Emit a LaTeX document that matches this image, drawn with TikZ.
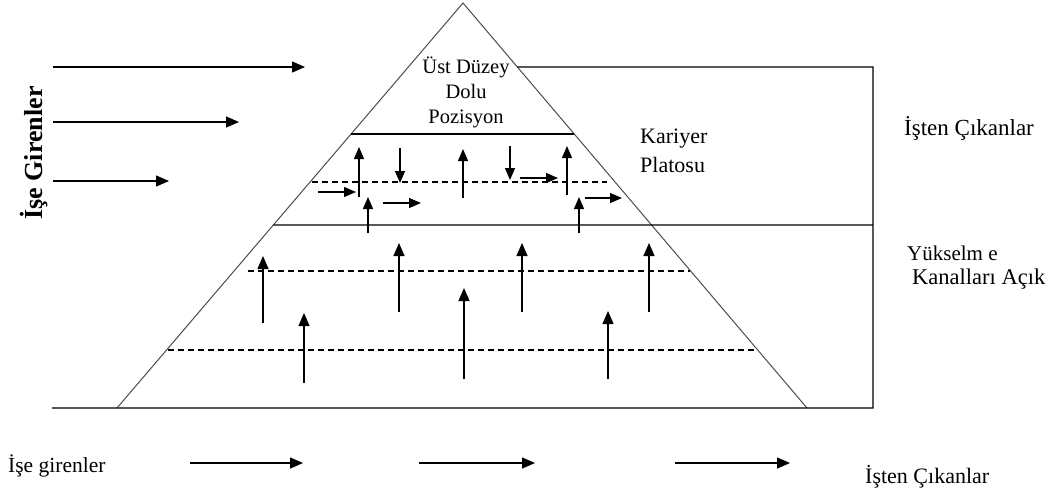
\documentclass[tikz,border=0pt]{standalone}
\usepackage{fontspec}
\setmainfont{Liberation Serif}
\usetikzlibrary{arrows.meta,calc}
\begin{document}
\begin{tikzpicture}[x=1pt,y=-1pt,
  edge/.style={draw=black!70,line width=1pt},
  solidline/.style={draw=black,line width=1.2pt},
  dashline/.style={draw=black,line width=1.2pt,dash pattern=on 6pt off 4pt},
  arr/.style={draw=black,line width=1.3pt,-{Triangle[length=13pt,width=11pt]}},
  sarr/.style={draw=black,line width=1.2pt,-{Triangle[length=12pt,width=10pt]}},
  lbl/.style={inner sep=0pt,font=\fontsize{21pt}{26pt}\selectfont},
]
\useasboundingbox (0,0) rectangle (1056,491);
% pyramid
\coordinate (apex) at (463,3);
\coordinate (bl) at (117,408);
\coordinate (br) at (807,408);
\coordinate (baseL) at (52,408);
\coordinate (baseR) at (873,408);
\coordinate (boxTR) at (873,67);
\coordinate (boxMR) at (873,225);
\coordinate (r67) at ($(apex)!0.158!(br)$);
\coordinate (l134) at ($(apex)!0.3235!(bl)$);
\coordinate (r134) at ($(apex)!0.3235!(br)$);
\coordinate (l225) at ($(apex)!0.548!(bl)$);
\draw[edge] (bl) -- (apex) -- (br);
\draw[solidline] (baseL) -- (baseR) -- (boxTR) -- (r67);
\draw[solidline] (l134) -- (r134);
\draw[solidline] (l225) -- (boxMR);
% dashed lines
\coordinate (d1a) at (312,182); \coordinate (d1b) at (607,182);
\coordinate (d2a) at (248,271); \coordinate (d2b) at (690,271);
\coordinate (d3a) at (168,350); \coordinate (d3b) at (755,350);
\draw[dashline] (d1a) -- (d1b);
\draw[dashline] (d2a) -- (d2b);
\draw[dashline] (d3a) -- (d3b);
% lower up arrows
\foreach \x/\a/\b [count=\i] in {263/323/256, 304/383/313, 399/312/243, 464/379/288, 522/312/243, 608/379/311, 649/312/243}{
  \coordinate (la\i) at (\x,\a); \coordinate (lb\i) at (\x,\b);
  \draw[arr] (la\i) -- (lb\i);
}
% plateau vertical arrows
\foreach \x/\a/\b [count=\i] in {359/197/147, 400/148/183, 463/198/149, 510/146/180, 567/195/146, 368/233/197, 579/233/197}{
  \coordinate (pa\i) at (\x,\a); \coordinate (pb\i) at (\x,\b);
  \draw[sarr] (pa\i) -- (pb\i);
}
% plateau horizontal arrows
\foreach \y/\a/\b [count=\i] in {192/318/356, 203/383/421, 178/520/558, 198/585/622}{
  \coordinate (ha\i) at (\a,\y); \coordinate (hb\i) at (\b,\y);
  \draw[sarr] (ha\i) -- (hb\i);
}
% left entry arrows
\foreach \y/\b [count=\i] in {67/305, 122/239, 181/169}{
  \coordinate (ea\i) at (53,\y); \coordinate (eb\i) at (\b,\y);
  \draw[arr] (ea\i) -- (eb\i);
}
% bottom arrows
\foreach \a/\b [count=\i] in {190/303, 419/535, 675/790}{
  \coordinate (ba\i) at (\a,463); \coordinate (bb\i) at (\b,463);
  \draw[arr] (ba\i) -- (bb\i);
}
% labels
\node[lbl,align=center,font=\fontsize{20.5pt}{25pt}\selectfont] (top) at (466,92) {Üst Düzey\\Dolu\\Pozisyon};
\node[lbl,align=left,anchor=west,font=\fontsize{22pt}{29pt}\selectfont] (kar) at (640,151) {Kariyer\\Platosu};
\node[lbl,anchor=west,font=\fontsize{23pt}{26pt}\selectfont] (cik1) at (904,128) {İşten Çıkanlar};
\node[lbl,anchor=west] (yuk) at (907,253) {Yükselm e};
\node[lbl,anchor=west,font=\fontsize{22.5pt}{26pt}\selectfont] (kan) at (912,279) {Kanalları Açık};
\node[lbl,anchor=west,font=\fontsize{21.5pt}{26pt}\selectfont] (gir) at (8,466) {İşe girenler};
\node[lbl,anchor=west,font=\fontsize{22pt}{26pt}\selectfont] (cik2) at (865,477) {İşten Çıkanlar};
\node[lbl,rotate=90,font=\bfseries\fontsize{26pt}{28pt}\selectfont] (ise) at (34,153) {İşe Girenler};
\end{tikzpicture}
\end{document}
